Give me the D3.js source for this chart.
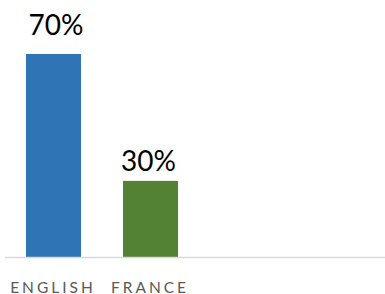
<!DOCTYPE html>
<html><head><meta charset="utf-8">
<script src="https://cdn.jsdelivr.net/npm/d3@7"></script>
<style>html,body{margin:0;padding:0;background:#fff;}svg{display:block;}</style>
</head><body>
<script>
const categories = ["ENGLISH", "FRANCE"];
const values = [70, 30];
const valueLabels = ["70%", "30%"];
const colors = ["#2E75B6", "#548235"];

const W = 385, H = 294;
const svg = d3.select("body").append("svg").attr("width", W).attr("height", H);

const x = d3.scaleBand().domain(categories).range([5, 199]).paddingInner(0.433).paddingOuter(0.2165);
const y = d3.scaleLinear().domain([6, 70]).range([257, 54]);

svg.selectAll("rect.bar").data(categories).join("rect")
  .attr("class", "bar")
  .attr("x", d => x(d))
  .attr("width", x.bandwidth())
  .attr("y", (d, i) => y(values[i]))
  .attr("height", (d, i) => y(6) - y(values[i]))
  .attr("fill", (d, i) => colors[i]);

svg.append("line").attr("x1", 5).attr("x2", W).attr("y1", 257.5).attr("y2", 257.5)
  .attr("stroke", "#d9d9d9").attr("stroke-width", 1.5);

svg.selectAll("text.val").data(categories).join("text")
  .attr("class", "val")
  .attr("x", (d, i) => x(d) + x.bandwidth() / 2 + (i === 0 ? 2.5 : -2))
  .attr("y", (d, i) => y(values[i]) - (i === 0 ? 19 : 9.5))
  .attr("text-anchor", "middle")
  .attr("font-family", "Lato, sans-serif")
  .attr("font-size", 28)
  .attr("fill", "#000")
  .text((d, i) => valueLabels[i]);

svg.selectAll("text.cat").data(categories).join("text")
  .attr("class", "cat")
  .attr("x", d => x(d) + x.bandwidth() / 2 - 0.5)
  .attr("y", 292.5)
  .attr("text-anchor", "middle")
  .attr("font-family", "Lato, sans-serif")
  .attr("font-size", 15.5)
  .attr("letter-spacing", 3)
  .attr("fill", "#595959")
  .text(d => d);
</script>
</body></html>
